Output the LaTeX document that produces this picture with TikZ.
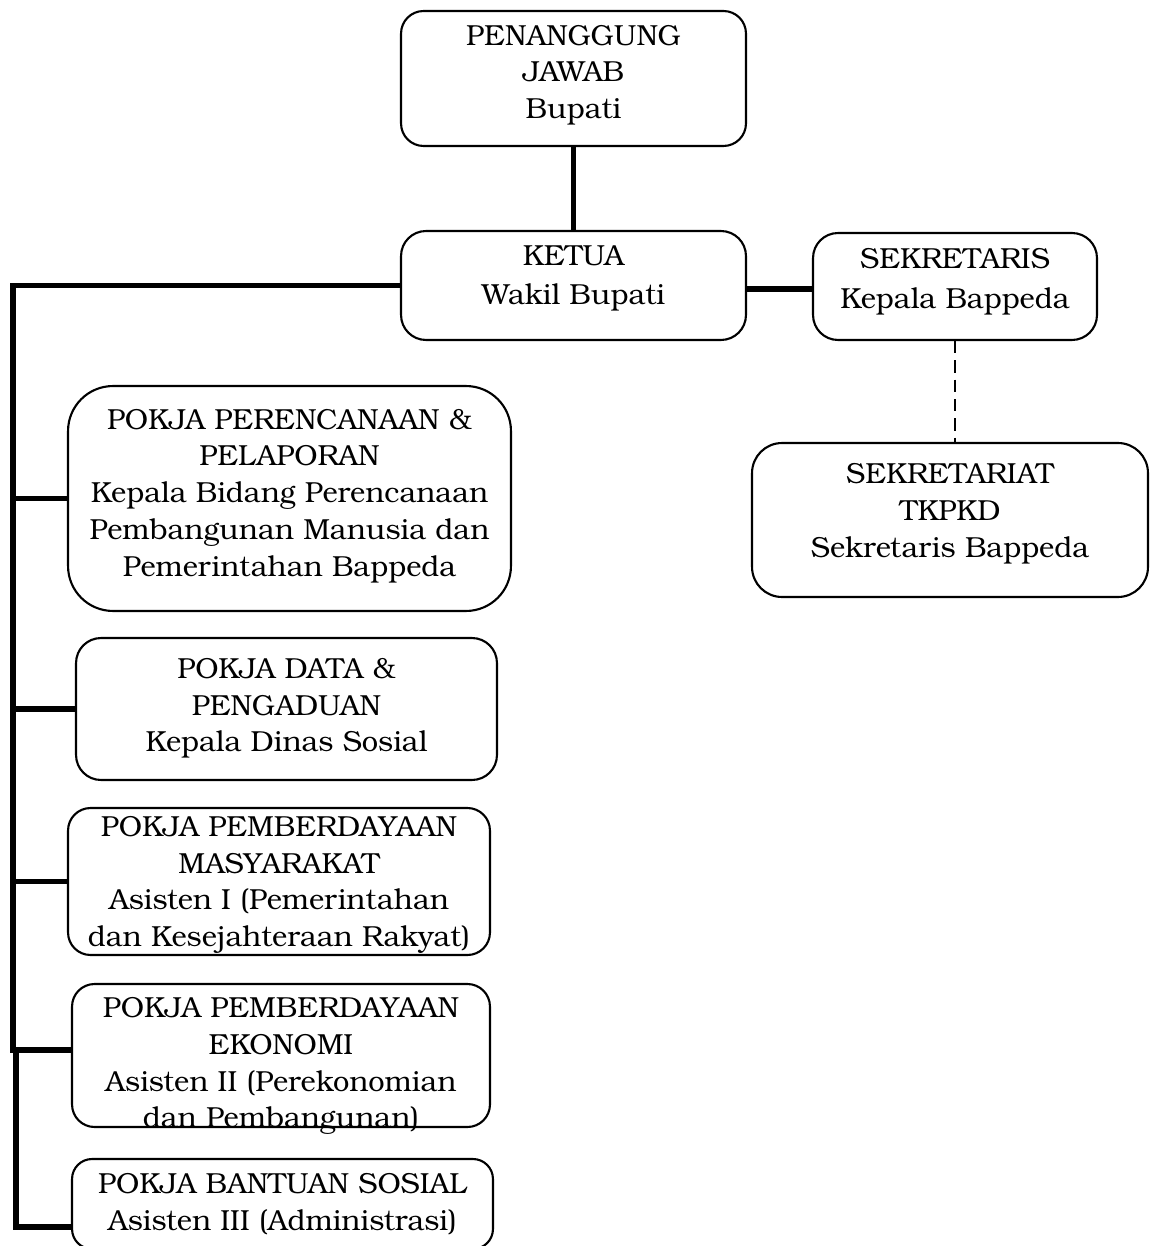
\documentclass[tikz,border=0pt]{standalone}
\usepackage{fontspec}
\setmainfont{TeX Gyre Bonum}
% text lines of a box; the optional length is added below them (negative: text goes down)
\newcommand{\boxlines}[2][0pt]{\begin{tabular}{@{}c@{}}#2\\\noalign{\vskip #1}\end{tabular}}

\begin{document}
\begin{tikzpicture}[x=0.02cm, y=-0.02cm,
    orgbox/.style={draw, line width=1.2pt, rounded corners=#1, align=center,
      inner sep=0pt, font=\fontsize{16.5}{21}\selectfont},
    link/.style={line width=3.3pt},
    dashlink/.style={line width=1.6pt, dash pattern=on 7pt off 4pt}]
    \useasboundingbox (0,0) rectangle (1150,1246);
    \clip (0,0) rectangle (1150,1246);

    % top of the team
    \node[orgbox=0.45cm, minimum width=6.9cm, minimum height=2.7cm] at (573.5, 78.5)(pj)
        {\boxlines[4.5pt]{PENANGGUNG\\JAWAB\\Bupati}};
    \node[orgbox=0.5cm, minimum width=6.9cm, minimum height=2.18cm] at (573.5, 285.5)(ketua)
        {\boxlines[9pt]{KETUA\\[1pt]Wakil Bupati}};
    \node[orgbox=0.5cm, minimum width=5.68cm, minimum height=2.14cm] at (955, 286.5)(sekr)
        {\boxlines[6pt]{SEKRETARIS\\[2pt]Kepala Bappeda}};
    \node[orgbox=0.6cm, minimum width=7.92cm, minimum height=3.08cm] at (950, 520)(sekt)
        {\boxlines[8pt]{SEKRETARIAT\\TKPKD\\Sekretaris Bappeda}};

    % working groups
    \node[orgbox=0.9cm, minimum width=8.86cm, minimum height=4.5cm] at (289.5, 498.5)(p1)
        {\boxlines[3.5pt]{POKJA PERENCANAAN \&\\PELAPORAN\\Kepala Bidang Perencanaan\\Pembangunan Manusia dan\\Pemerintahan Bappeda}};
    \node[orgbox=0.5cm, minimum width=8.42cm, minimum height=2.84cm] at (286.5, 709)(p2)
        {\boxlines[1.5pt]{POKJA DATA \&\\PENGADUAN\\Kepala Dinas Sosial}};
    \node[orgbox=0.45cm, minimum width=8.44cm, minimum height=2.94cm] at (279, 881.5)(p3)
        {\boxlines[-3pt]{POKJA PEMBERDAYAAN\\MASYARAKAT\\Asisten I (Pemerintahan\\dan Kesejahteraan Rakyat)}};
    \node[orgbox=0.45cm, minimum width=8.36cm, minimum height=2.86cm] at (281, 1055.5)(p4)
        {\boxlines[-11pt]{POKJA PEMBERDAYAAN\\EKONOMI\\Asisten II (Perekonomian\\dan Pembangunan)}};
    \node[orgbox=0.4cm, minimum width=8.42cm, minimum height=1.8cm] at (282.5, 1204)(p5)
        {\boxlines[-1pt]{POKJA BANTUAN SOSIAL\\Asisten III (Administrasi)}};

    % bus on the left
    \coordinate (bus1) at (13, 1050);
    \coordinate (bus2) at (16, 1050);
    \coordinate (bus3) at (16, 1227);

    \draw[link] (pj.south) -- (pj.south |- ketua.north);
    \draw[link] ([yshift=-2pt]ketua.east) -- ([yshift=-2pt]ketua.east -| sekr.west);
    \draw[dashlink] (sekr.south) -- (sekr.south |- sekt.north);
    \draw[link] (ketua.west) -| (bus1) -- (bus1 -| p4.west);
    \draw[link] (bus2) -- (bus3) -- (bus3 -| p5.west);
    \draw[link] (p1.west) -- (p1.west -| bus1);
    \draw[link] (p2.west) -- (p2.west -| bus1);
    \draw[link] (p3.west) -- (p3.west -| bus1);
\end{tikzpicture}
\end{document}
